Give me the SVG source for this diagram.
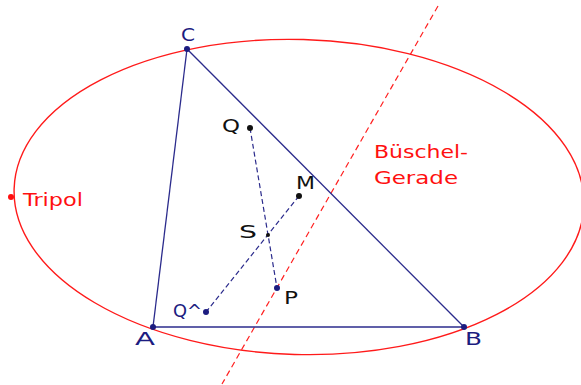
<svg xmlns="http://www.w3.org/2000/svg" width="581" height="385" viewBox="0 0 581 385">
<style>
.lbl{font-family:"DejaVu Sans","Liberation Sans",sans-serif;font-size:18px}
.blue{fill:#1c1c80}
.blk{fill:#111}
.red{fill:#ff1010}
.tri{stroke:#2b2b8c;stroke-width:1.3;fill:none}
.dash{stroke:#2b2b8c;stroke-width:1.2;stroke-dasharray:5 3;fill:none}
</style>
<rect width="581" height="385" fill="#fff"/>
<g id="connectors">
<ellipse id="conic" cx="299" cy="197" rx="285" ry="157.5" transform="rotate(1.65 299 197)" fill="none" stroke="#ff1a1a" stroke-width="1.4"/>
<line id="bueschel" x1="438" y1="6" x2="222" y2="384" stroke="#ff2020" stroke-width="1.2" stroke-dasharray="6 4"/>
<line class="tri" x1="153" y1="327" x2="464" y2="327"/>
<line class="tri" x1="153" y1="327" x2="187" y2="49" stroke-width="1.5"/>
<line class="tri" x1="187" y1="49" x2="464" y2="327" stroke-width="1.1"/>
<line class="dash" x1="250" y1="128" x2="277" y2="288"/>
<line class="dash" x1="299" y1="196" x2="206" y2="312"/>
</g>
<g id="A"><circle cx="153" cy="327" r="3" class="blue"/><text class="lbl blue" x="135" y="345" textLength="20" lengthAdjust="spacingAndGlyphs">A</text></g>
<g id="B"><circle cx="464" cy="327" r="3" class="blue"/><text class="lbl blue" x="465" y="345" textLength="17" lengthAdjust="spacingAndGlyphs">B</text></g>
<g id="C"><circle cx="187" cy="49" r="3" class="blue"/><text class="lbl blue" x="181" y="41" textLength="14" lengthAdjust="spacingAndGlyphs">C</text></g>
<g id="Q"><circle cx="250" cy="128" r="3" class="blk"/><text class="lbl blk" x="222" y="132" textLength="18" lengthAdjust="spacingAndGlyphs">Q</text></g>
<g id="M"><circle cx="299" cy="196" r="3" class="blk"/><text class="lbl blk" x="296" y="189" textLength="19" lengthAdjust="spacingAndGlyphs">M</text></g>
<g id="S"><circle cx="268" cy="235" r="2" class="blk"/><text class="lbl blk" x="239" y="238" textLength="18" lengthAdjust="spacingAndGlyphs">S</text></g>
<g id="P"><circle cx="277" cy="288" r="3" class="blue"/><text class="lbl blk" x="284" y="304" textLength="14" lengthAdjust="spacingAndGlyphs">P</text></g>
<g id="Qhat"><circle cx="206" cy="312" r="3" class="blue"/><text class="lbl blue" x="173" y="317" textLength="29" lengthAdjust="spacingAndGlyphs">Q^</text></g>
<g id="Tripol"><circle cx="11" cy="197" r="3" class="red"/><text class="lbl red" x="23" y="206" textLength="60" lengthAdjust="spacingAndGlyphs">Tripol</text></g>
<g id="label-bueschel"><text class="lbl red" x="374" y="158" textLength="94" lengthAdjust="spacingAndGlyphs">Büschel-</text><text class="lbl red" x="374" y="184" textLength="84" lengthAdjust="spacingAndGlyphs">Gerade</text></g>
</svg>
